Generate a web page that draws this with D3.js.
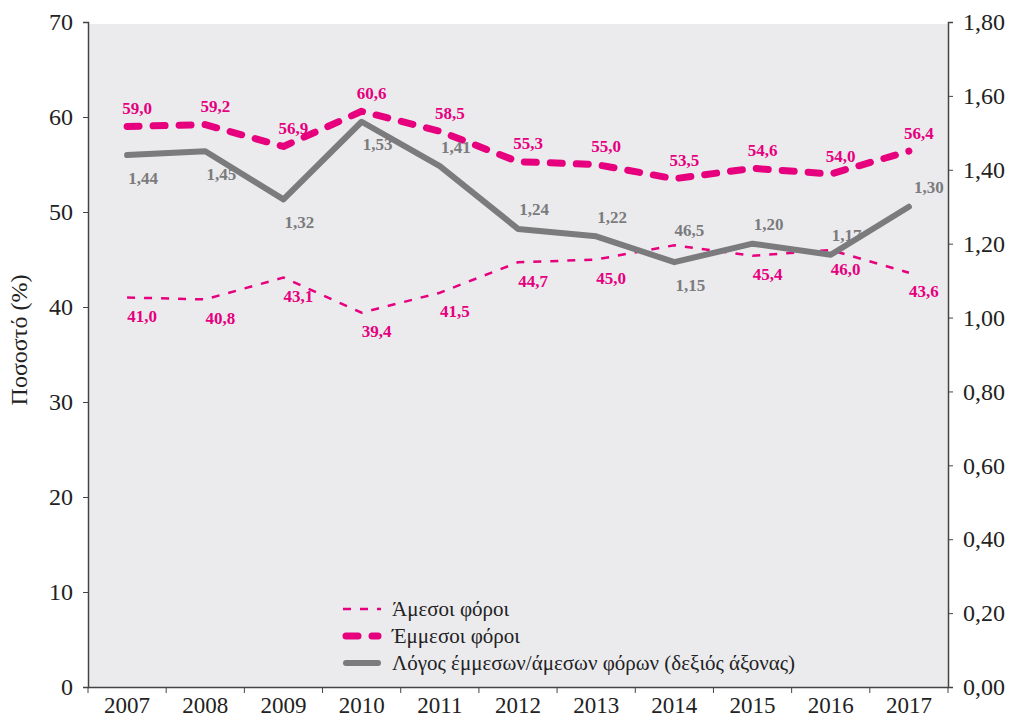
<!DOCTYPE html>
<html>
<head>
<meta charset="utf-8">
<script src="https://cdn.jsdelivr.net/npm/d3@7"></script>
<style>
  body { margin: 0; background: #fff; }
  svg { display: block; font-family: "Liberation Serif", "DejaVu Serif", serif; }
</style>
</head>
<body>
<svg id="chart" width="1009" height="722"></svg>
<script>
// data
const years = ['2007','2008','2009','2010','2011','2012','2013','2014','2015','2016','2017']
const direct = [41.0, 40.8, 43.1, 39.4, 41.5, 44.7, 45.0, 46.5, 45.4, 46.0, 43.6]
const indirect = [59.0, 59.2, 56.9, 60.6, 58.5, 55.3, 55.0, 53.5, 54.6, 54.0, 56.4]
const ratio = [1.44, 1.45, 1.32, 1.53, 1.41, 1.24, 1.22, 1.15, 1.20, 1.17, 1.30]

const leftTicks = [0, 10, 20, 30, 40, 50, 60, 70]
const rightTicks = [0, 0.2, 0.4, 0.6, 0.8, 1.0, 1.2, 1.4, 1.6, 1.8]

// where the value labels sit, per point
const directLabelPos = ['below','below','below','below','below','below','below','above','below','below','below']
const ratioLabelPos = ['below','below','below','below','above','above','above','below','above','above','above']

const pink = '#e6007e'
const grey = '#7b7b7d'

const gr = d3.formatLocale({decimal: ',', thousands: '.', grouping: [3], currency: ['', '€']})
const f1 = gr.format('.1f')
const f2 = gr.format('.2f')

const margin = {top: 22, right: 61, bottom: 35, left: 88}
const width = 1009, height = 722

const svg = d3.select('#chart')

// x scale: band per year, ticks on the boundaries
const x = d3.scaleBand()
  .domain(years)
  .range([margin.left, width - margin.right])
const cx = d => x(d) + x.bandwidth() / 2

const y = d3.scaleLinear().domain([0, 70]).range([height - margin.bottom, margin.top])
const y2 = d3.scaleLinear().domain([0, 1.8]).range([height - margin.bottom, margin.top])

// plot background
svg.append('rect')
  .attr('x', margin.left)
  .attr('y', margin.top + 2)
  .attr('width', width - margin.right - margin.left)
  .attr('height', height - margin.bottom - margin.top - 2)
  .attr('fill', '#ebebee')

// left axis
const gl = svg.append('g')
  .attr('transform', 'translate(' + margin.left + ',0)')
  .call(d3.axisLeft(y).tickValues(leftTicks).tickSize(5).tickPadding(10).tickFormat(d3.format('d')))
  .attr('font-family', null)
  .attr('font-size', '24px')
gl.selectAll('text').attr('fill', '#222')

// right axis
const gr2 = svg.append('g')
  .attr('transform', 'translate(' + (width - margin.right) + ',0)')
  .call(d3.axisRight(y2).tickValues(rightTicks).tickSize(5).tickPadding(10).tickFormat(f2))
  .attr('font-family', null)
  .attr('font-size', '24px')
gr2.selectAll('text').attr('fill', '#222')

// bottom axis, tick marks between categories
const gb = svg.append('g')
  .attr('transform', 'translate(0,' + (height - margin.bottom) + ')')
  .call(d3.axisBottom(x).tickSize(0).tickPadding(10))
  .attr('font-family', null)
  .attr('font-size', '23px')
gb.selectAll('text').attr('fill', '#222')
gb.selectAll('line.sep')
  .data(d3.range(years.length + 1))
  .join('line')
  .attr('class', 'sep')
  .attr('x1', i => margin.left + i * x.step())
  .attr('x2', i => margin.left + i * x.step())
  .attr('y1', 0).attr('y2', 6)
  .attr('stroke', '#444')

svg.selectAll('.domain').attr('stroke', '#444').attr('stroke-width', 1.5)
svg.selectAll('.tick line').attr('stroke', '#444')

// y title
svg.append('text')
  .attr('transform', 'translate(27,340) rotate(-90)')
  .attr('text-anchor', 'middle')
  .attr('font-size', '24px')
  .attr('fill', '#222')
  .text('Ποσοστό (%)')

// lines
const lineL = vals => d3.line().x((d, i) => cx(years[i])).y(d => y(d))(vals)
const lineR = d3.line().x((d, i) => cx(years[i])).y(d => y2(d))

svg.append('path')
  .attr('d', lineL(direct))
  .attr('fill', 'none')
  .attr('stroke', pink)
  .attr('stroke-width', 2.5)
  .attr('stroke-dasharray', '8,9')

svg.append('path')
  .attr('d', lineL(indirect))
  .attr('fill', 'none')
  .attr('stroke', pink)
  .attr('stroke-width', 7)
  .attr('stroke-linecap', 'round')
  .attr('stroke-linejoin', 'round')
  .attr('stroke-dasharray', '12,14')

svg.append('path')
  .attr('d', lineR(ratio))
  .attr('fill', 'none')
  .attr('stroke', grey)
  .attr('stroke-width', 6)
  .attr('stroke-linejoin', 'round')
  .attr('stroke-linecap', 'round')

// value labels
const labels = svg.append('g')
  .attr('font-size', '17px')
  .attr('font-weight', 'bold')
  .attr('text-anchor', 'middle')
  .attr('dominant-baseline', 'central')

labels.selectAll('text.ind')
  .data(indirect)
  .join('text')
  .attr('class', 'ind')
  .attr('x', (d, i) => cx(years[i]) + 10)
  .attr('y', d => y(d) - 18)
  .attr('fill', pink)
  .text(d => f1(d))

labels.selectAll('text.dir')
  .data(direct)
  .join('text')
  .attr('class', 'dir')
  .attr('x', (d, i) => cx(years[i]) + 15)
  .attr('y', (d, i) => y(d) + (directLabelPos[i] === 'above' ? -15 : 19))
  .attr('fill', (d, i) => directLabelPos[i] === 'above' ? grey : pink)
  .text(d => f1(d))

labels.selectAll('text.rat')
  .data(ratio)
  .join('text')
  .attr('class', 'rat')
  .attr('x', (d, i) => cx(years[i]) + (i === years.length - 1 ? 20 : 16))
  .attr('y', (d, i) => y2(d) + (ratioLabelPos[i] === 'above' ? -19 : 23))
  .attr('fill', grey)
  .text(d => f2(d))

// legend
const legendItems = [
  {name: 'Άμεσοι φόροι', width: 2.5, dash: '8,9', cap: 'butt', color: pink},
  {name: 'Έμμεσοι φόροι', width: 7, dash: '12,14', cap: 'round', color: pink},
  {name: 'Λόγος έμμεσων/άμεσων φόρων (δεξιός άξονας)', width: 6, dash: null, cap: 'round', color: grey}
]

const legend = svg.append('g').attr('transform', 'translate(343,609)')
const li = legend.selectAll('g')
  .data(legendItems)
  .join('g')
  .attr('transform', (d, i) => 'translate(0,' + i * 27 + ')')

li.append('line')
  .attr('x1', d => d.cap === 'round' ? 3 : 0)
  .attr('x2', d => d.cap === 'round' ? 35 : 38)
  .attr('stroke', d => d.color)
  .attr('stroke-width', d => d.width)
  .attr('stroke-linecap', d => d.cap)
  .attr('stroke-dasharray', d => d.dash)

li.append('text')
  .attr('x', 49)
  .attr('dominant-baseline', 'central')
  .attr('font-size', '21px')
  .attr('fill', '#222')
  .text(d => d.name)
</script>
</body>
</html>
